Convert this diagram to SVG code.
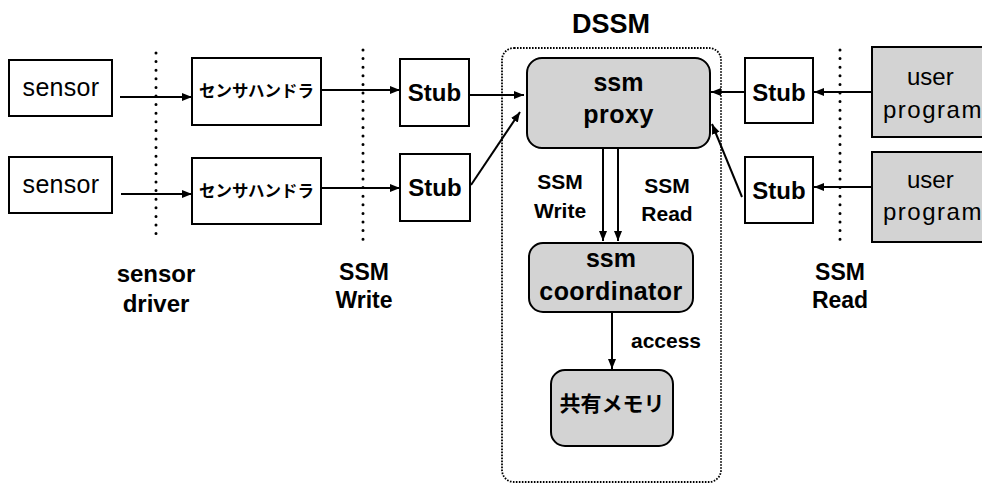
<svg xmlns="http://www.w3.org/2000/svg" width="982" height="484" viewBox="0 0 982 484">
<defs>
<marker id="ah" markerUnits="userSpaceOnUse" markerWidth="11" markerHeight="9" refX="10" refY="4" orient="auto"><path d="M0,0 L10,4 L0,8 z" fill="#000"/></marker>
<style>
.box{fill:#fff;stroke:#000;stroke-width:2}
.gbox{fill:#d3d3d3;stroke:#000;stroke-width:2}
.c{stroke:#000;stroke-width:2;fill:none;marker-end:url(#ah)}
.dot{stroke:#000;stroke-width:3;stroke-linecap:round;stroke-dasharray:0 8.6;fill:none}
.t{font-family:"Liberation Sans","Noto Sans CJK JP",sans-serif;fill:#000;text-anchor:middle}
.s{text-anchor:start}
.b{font-weight:bold}
.jp{font-family:"Noto Sans CJK JP",sans-serif;font-weight:bold;fill:#000;text-anchor:middle}
</style>
</defs>
<rect width="982" height="484" fill="#fff"/>
<g id="dividers">
<line class="dot" x1="156" y1="53" x2="156" y2="242"/>
<line class="dot" x1="363" y1="50" x2="363" y2="240"/>
<line class="dot" x1="840" y1="50" x2="840" y2="240"/>
</g>
<g id="dssm">
<rect x="502" y="48" width="219" height="434" rx="12" fill="none" stroke="#000" stroke-width="1.8" stroke-dasharray="1.6 1.4"/>
<text class="t b" x="611" y="33" font-size="27">DSSM</text>
</g>
<g id="sensor1"><rect class="box" x="9" y="60" width="103" height="56"/><text class="t" x="61" y="96" font-size="25" letter-spacing="0.3">sensor</text></g>
<g id="sensor2"><rect class="box" x="9" y="157" width="103" height="56"/><text class="t" x="61" y="193" font-size="25" letter-spacing="0.3">sensor</text></g>
<g id="handler1"><rect class="box" x="192" y="58" width="129" height="67"/><text class="jp" x="256.5" y="97" font-size="16.5">センサハンドラ</text></g>
<g id="handler2"><rect class="box" x="192" y="158" width="129" height="66"/><text class="jp" x="256.5" y="197" font-size="16.5">センサハンドラ</text></g>
<g id="stubL1"><rect class="box" x="400" y="59" width="69" height="67"/><text class="t b" x="434.5" y="101" font-size="24">Stub</text></g>
<g id="stubL2"><rect class="box" x="400" y="154" width="70" height="67"/><text class="t b" x="435" y="196" font-size="24">Stub</text></g>
<g id="proxy"><rect class="gbox" x="527" y="58" width="183" height="90" rx="15"/><text class="t b" x="618.5" y="91" font-size="25">ssm</text><text class="t b" x="618.5" y="123" font-size="25" letter-spacing="0.5">proxy</text></g>
<g id="coordinator"><rect class="gbox" x="529" y="243" width="164" height="69" rx="14"/><text class="t b" x="611" y="267" font-size="25">ssm</text><text class="t b" x="611" y="300" font-size="25" letter-spacing="0.4">coordinator</text></g>
<g id="memory"><rect class="gbox" x="551" y="370" width="122" height="76" rx="14"/><text class="jp" x="612" y="411" font-size="21">共有メモリ</text></g>
<g id="stubR1"><rect class="box" x="745" y="58" width="68" height="65"/><text class="t b" x="779" y="101" font-size="24">Stub</text></g>
<g id="stubR2"><rect class="box" x="745" y="157" width="68" height="66"/><text class="t b" x="779" y="199" font-size="24">Stub</text></g>
<g id="user1"><rect class="gbox" x="872" y="47" width="120" height="90"/><text class="t s" x="907" y="85" font-size="24">user</text><text class="t s" x="883" y="118" font-size="24" letter-spacing="1.5">program</text></g>
<g id="user2"><rect class="gbox" x="872" y="152" width="120" height="90"/><text class="t s" x="907" y="188" font-size="24">user</text><text class="t s" x="883" y="220" font-size="24" letter-spacing="1.5">program</text></g>
<g id="labels">
<text class="t b" x="156" y="282" font-size="24">sensor</text>
<text class="t b" x="156" y="312" font-size="24">driver</text>
<text class="t b" x="364" y="280" font-size="23">SSM</text>
<text class="t b" x="364" y="308" font-size="23">Write</text>
<text class="t b" x="840" y="280" font-size="23">SSM</text>
<text class="t b" x="840" y="308" font-size="23">Read</text>
<text class="t b" x="560" y="189" font-size="21">SSM</text>
<text class="t b" x="560" y="218" font-size="21">Write</text>
<text class="t b" x="667" y="193" font-size="21">SSM</text>
<text class="t b" x="667" y="221" font-size="21">Read</text>
<text class="t b" x="666" y="348" font-size="21">access</text>
</g>
<g id="connectors">
<line class="c" x1="120" y1="97" x2="192" y2="97"/>
<line class="c" x1="121" y1="194" x2="192" y2="194"/>
<line class="c" x1="321" y1="90" x2="400" y2="90"/>
<line class="c" x1="321" y1="188" x2="400" y2="188"/>
<line class="c" x1="469" y1="95" x2="524" y2="95"/>
<line class="c" x1="471" y1="185" x2="520" y2="112"/>
<line class="c" x1="603" y1="148" x2="603" y2="241"/>
<line class="c" x1="618" y1="148" x2="618" y2="241"/>
<line class="c" x1="612" y1="312" x2="612" y2="369"/>
<line class="c" x1="872" y1="92" x2="814" y2="92"/>
<line class="c" x1="872" y1="187" x2="814" y2="187"/>
<line class="c" x1="745" y1="92" x2="711" y2="92"/>
<line class="c" x1="742" y1="197" x2="712" y2="124"/>
</g>
</svg>
